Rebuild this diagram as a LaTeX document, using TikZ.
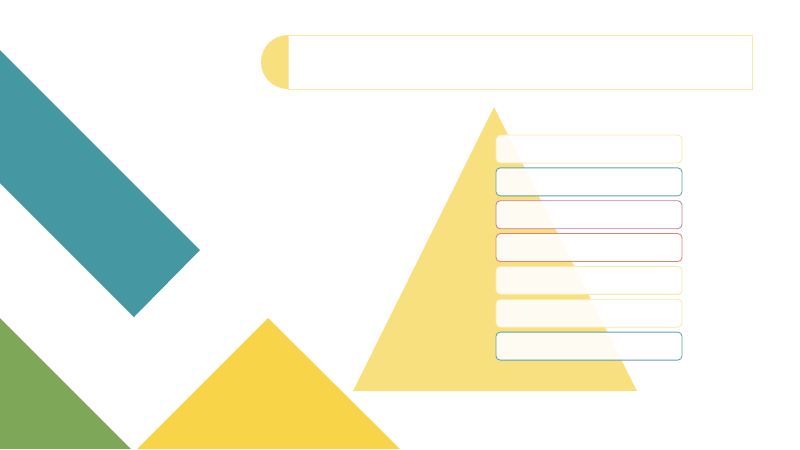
\documentclass[tikz,border=0pt]{standalone}
\usepackage{tikz}
\usetikzlibrary{positioning}

\definecolor{bandteal}{HTML}{4597A2}
\definecolor{leafgreen}{HTML}{7EA758}
\definecolor{sunyellow}{HTML}{F8D448}
\definecolor{paleyellow}{HTML}{F9E07F}
\definecolor{lineyellow}{HTML}{FBE8A6}
\definecolor{lineteal}{HTML}{62A1A9}
\definecolor{linepurple}{HTML}{BD80A4}
\definecolor{linered}{HTML}{E3836F}

\begin{document}
\begin{tikzpicture}[
    x=0.025cm, y=-0.025cm,
    level box/.style={draw=#1, line width=0.6pt, fill=white, fill opacity=0.9,
        draw opacity=1, rounded corners=3pt, minimum width=4.65cm,
        minimum height=0.7cm, inner sep=0pt},
    title bar/.style={draw=lineyellow, line width=0.6pt, fill=white,
        minimum width=11.6cm, minimum height=1.35cm, inner sep=0pt}
    ]
    \useasboundingbox (0,0) rectangle (800,449);

    % left shapes
    \fill[bandteal] (0,50) -- (200,250) -- (134,317) -- (0,183) -- cycle;
    \fill[leafgreen] (0,318) -- (131,449) -- (0,449) -- cycle;
    \fill[sunyellow] (268,318) -- (400,449) -- (137,449) -- cycle;

    % pyramid
    \fill[paleyellow] (494,107) -- (637,391) -- (353,391) -- cycle;

    % title
    \fill[paleyellow] (288,62) circle (27);
    \node[title bar, anchor=west] (title) at (288,62) {};

    % levels
    \node[level box=lineyellow] (lvl1) at (589,149) {};
    \node[level box=lineteal, below=0.1cm of lvl1] (lvl2) {};
    \node[level box=linepurple, below=0.1cm of lvl2] (lvl3) {};
    \node[level box=linered, below=0.1cm of lvl3] (lvl4) {};
    \node[level box=lineyellow, below=0.1cm of lvl4] (lvl5) {};
    \node[level box=lineyellow, below=0.1cm of lvl5] (lvl6) {};
    \node[level box=lineteal, below=0.1cm of lvl6] (lvl7) {};

\end{tikzpicture}
\end{document}
